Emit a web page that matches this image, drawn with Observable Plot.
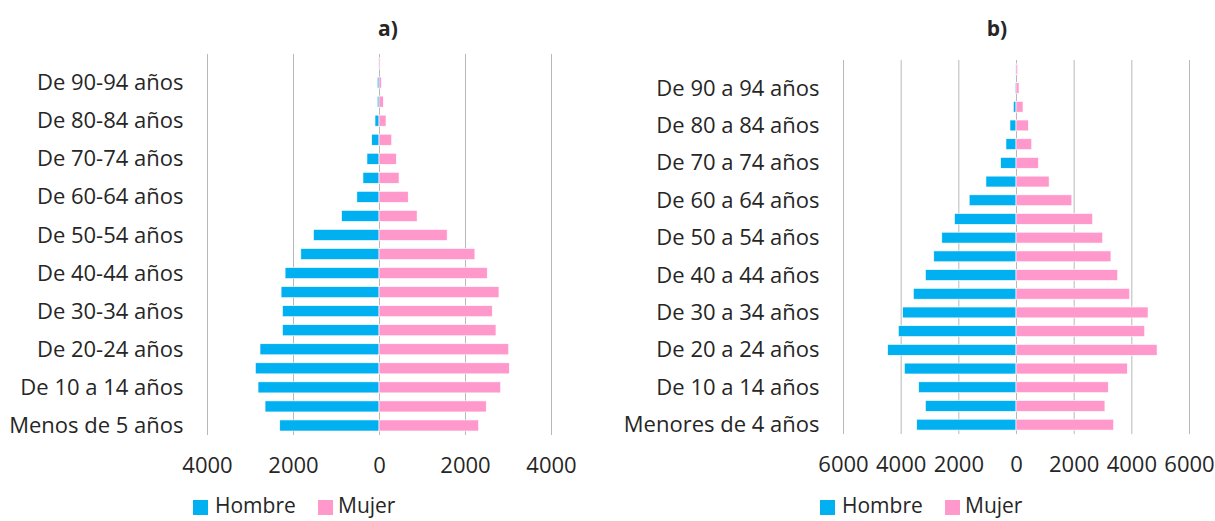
<!DOCTYPE html>
<html>
<head>
<meta charset="utf-8">
<script src="https://cdn.jsdelivr.net/npm/d3@7"></script>
<script src="https://cdn.jsdelivr.net/npm/@observablehq/plot@0.6"></script>
<style>
  body { margin: 0; background: #fff; font-family: "Open Sans", sans-serif; }
  #root { position: relative; width: 1215px; height: 521px; overflow: hidden; background: #fff; }
  .panel { position: absolute; top: 0; }
  .title { position: absolute; font-weight: bold; font-size: 21px; color: #262626; transform: translate(-50%, -50%); }
  .lt { position: absolute; font-size: 21px; line-height: 21px; color: #262626; white-space: nowrap; }
  .sw { position: absolute; width: 15px; height: 15px; }
</style>
</head>
<body>
<div id="root">
  <div class="title" style="left:388px; top:28px;">a)</div>
  <div class="title" style="left:997px; top:28px;">b)</div>
  <div id="pa" class="panel" style="left:0px;"></div>
  <div id="pb" class="panel" style="left:600px;"></div>
  <div id="legend"></div>
</div>
<script>
// ---- Data (bottom to top) ----
const groupsA = ["Menos de 5 años","De 5-9 años","De 10 a 14 años","De 15-19 años","De 20-24 años","De 25-29 años","De 30-34 años","De 35-39 años","De 40-44 años","De 45-49 años","De 50-54 años","De 55-59 años","De 60-64 años","De 65-69 años","De 70-74 años","De 75-79 años","De 80-84 años","De 85-89 años","De 90-94 años","De 95 años y más"];
const hombreA = [2308, 2650, 2813, 2875, 2767, 2245, 2245, 2277, 2184, 1818, 1523, 870, 515, 373, 280, 171, 93, 40, 40, 5];
const mujerA  = [2316, 2494, 2828, 3030, 3015, 2720, 2634, 2790, 2517, 2230, 1585, 886, 680, 466, 403, 295, 163, 100, 55, 25];
const ticksA = [-4000, -2000, 0, 2000, 4000];

const groupsB = ["Menores de 4 años","De 5 a 9 años","De 10 a 14 años","De 15 a 19 años","De 20 a 24 años","De 25 a 29 años","De 30 a 34 años","De 35 a 39 años","De 40 a 44 años","De 45 a 49 años","De 50 a 54 años","De 55 a 59 años","De 60 a 64 años","De 65 a 69 años","De 70 a 74 años","De 75 a 79 años","De 80 a 84 años","De 85 a 89 años","De 90 a 94 años","De 95 años y más"];
const hombreB = [3443, 3142, 3374, 3872, 4452, 4081, 3930, 3559, 3142, 2852, 2574, 2133, 1623, 1043, 533, 348, 209, 93, 30, 10];
const mujerB  = [3386, 3084, 3200, 3861, 4893, 4464, 4580, 3942, 3525, 3293, 3003, 2655, 1936, 1148, 777, 545, 429, 243, 104, 58];
const ticksB = [-6000, -4000, -2000, 0, 2000, 4000, 6000];

const sexes = ["Hombre", "Mujer"];
const colors = ["#00b0f0", "#ff99cc"];

function pyramid(groups, hombre, mujer, ticks, opts) {
  const rows = groups.flatMap((g, i) => [
    {group: g, sexo: sexes[0], v: -hombre[i]},
    {group: g, sexo: sexes[1], v: mujer[i]}
  ]);
  const lim = Math.max(...ticks);
  return Plot.plot({
    width: opts.width, height: opts.height,
    marginLeft: opts.marginLeft, marginRight: opts.marginRight,
    marginTop: opts.marginTop, marginBottom: opts.marginBottom,
    style: {fontFamily: "Open Sans", fontSize: "22px", color: "#262626", background: "transparent", overflow: "visible"},
    x: {domain: [-lim, lim], ticks: ticks, tickFormat: d => String(Math.abs(d)), tickSize: 0, tickPadding: 22, label: null},
    y: {domain: groups.slice().reverse(), paddingInner: 0.42, paddingOuter: 0.21, round: false,
        ticks: groups.filter((d, i) => i % 2 === 0), tickSize: 0, tickPadding: 24, label: null},
    color: {domain: sexes, range: colors},
    marks: [
      Plot.ruleX(ticks, {stroke: "#b8b8b8", strokeWidth: 1}),
      Plot.barX(rows, {x: "v", y: "group", fill: "sexo", stroke: "#fff", strokeWidth: 0.6})
    ]
  });
}

document.getElementById("pa").appendChild(pyramid(groupsA, hombreA, mujerA, ticksA,
  {width: 607, height: 490, marginLeft: 207, marginRight: 56, marginTop: 54, marginBottom: 55}));
document.getElementById("pb").appendChild(pyramid(groupsB, hombreB, mujerB, ticksB,
  {width: 615, height: 490, marginLeft: 243, marginRight: 26, marginTop: 60, marginBottom: 56}));

// legends (HTML, below the charts)
function legend(x0) {
  const root = document.getElementById("legend");
  const offs = [{sw: 0, tx: 22}, {sw: 125, tx: 145}];
  sexes.forEach((s, i) => {
    const sw = document.createElement("div");
    sw.className = "sw";
    sw.style.left = (x0 + offs[i].sw) + "px";
    sw.style.top = "500px";
    sw.style.background = colors[i];
    root.appendChild(sw);
    const t = document.createElement("div");
    t.className = "lt";
    t.style.left = (x0 + offs[i].tx) + "px";
    t.style.top = "495px";
    t.textContent = s;
    root.appendChild(t);
  });
}
legend(193);
legend(820);
</script>
</body>
</html>
